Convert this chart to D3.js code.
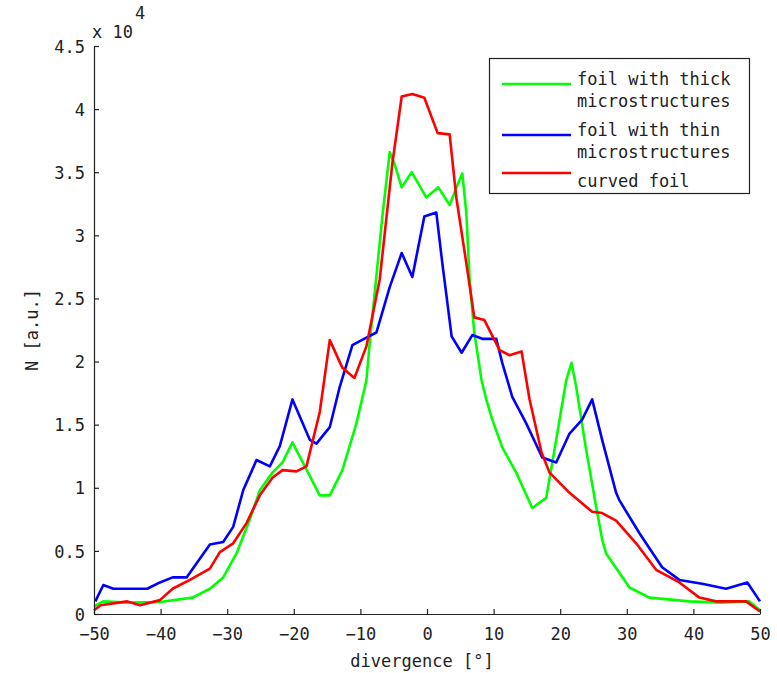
<!DOCTYPE html>
<html>
<head>
<meta charset="utf-8">
<script src="https://cdn.jsdelivr.net/npm/d3@7"></script>
<style>
  body { margin: 0; background: #fff; }
  svg text { font-family: "DejaVu Sans Mono", monospace; fill: #222; }
  .line { fill: none; stroke-width: 2.6; stroke-linejoin: round; }
</style>
</head>
<body>
<svg width="777" height="673"></svg>
<script>
// values are N / 10^4
var thickX = [-50, -48.6, -45, -40.1, -35.2, -32.6, -30.6, -28.6, -26.6, -25.1, -23.2, -21.7, -20.2, -16.1, -14.6, -12.7, -10.6, -9.1, -8.6, -6.7, -5.6, -4.9, -3.8, -2.3, -0.1, 1.7, 3.4, 4.9, 5.3, 5.9, 6.4, 7.1, 8.2, 8.9, 9.8, 11.3, 13.4, 15.8, 17.9, 19.4, 20.9, 21.7, 22.4, 23.9, 25.4, 26.3, 26.9, 30.4, 33.4, 39.4, 44, 48.4, 50];
var thickY = [0.06, 0.1, 0.09, 0.095, 0.13, 0.2, 0.29, 0.48, 0.75, 0.98, 1.12, 1.2, 1.36, 0.94, 0.94, 1.14, 1.51, 1.85, 2.15, 3.15, 3.66, 3.57, 3.38, 3.5, 3.3, 3.38, 3.24, 3.44, 3.49, 3.18, 2.65, 2.23, 1.85, 1.7, 1.54, 1.32, 1.12, 0.84, 0.92, 1.38, 1.85, 1.99, 1.8, 1.3, 0.85, 0.59, 0.48, 0.21, 0.13, 0.1, 0.09, 0.1, 0.03];

var thinX = [-49.8, -48.6, -47.1, -42, -40.1, -38.2, -36.1, -32.6, -30.6, -29.1, -27.6, -25.6, -23.6, -22.1, -20.2, -17.6, -16.6, -14.6, -13.1, -11.2, -9.1, -7.6, -5.6, -3.8, -2.2, -0.4, 1.4, 2.3, 3.7, 5.2, 6.8, 8.3, 10.4, 11.3, 12.8, 14.9, 17.3, 19.4, 21.4, 23.3, 24.8, 26.3, 28.4, 28.9, 31.9, 35.3, 37.9, 41.3, 44.9, 48.1, 50];
var thinY = [0.1, 0.23, 0.2, 0.2, 0.25, 0.29, 0.29, 0.55, 0.57, 0.69, 0.98, 1.22, 1.17, 1.33, 1.7, 1.38, 1.35, 1.48, 1.8, 2.13, 2.19, 2.23, 2.59, 2.86, 2.67, 3.15, 3.18, 2.78, 2.2, 2.07, 2.21, 2.18, 2.18, 1.99, 1.72, 1.51, 1.24, 1.2, 1.43, 1.54, 1.7, 1.38, 0.96, 0.9, 0.64, 0.37, 0.27, 0.24, 0.2, 0.25, 0.1];

var curvedX = [-50, -49, -45, -43.1, -40.1, -38.2, -35.6, -32.6, -31.1, -29.1, -27.1, -25.1, -23.2, -21.7, -19.6, -18.1, -16.1, -14.6, -12.7, -10.9, -9.1, -7.1, -5.2, -3.8, -2.2, -0.4, 1.6, 3.4, 4.4, 5.9, 7.1, 8.6, 10.9, 12.4, 14.2, 15.4, 17.2, 18.4, 21.4, 24.8, 26.3, 28.4, 31.4, 34.4, 37.9, 40.9, 43.4, 47.9, 50];
var curvedY = [0.03, 0.07, 0.1, 0.07, 0.11, 0.2, 0.27, 0.36, 0.49, 0.56, 0.72, 0.94, 1.08, 1.14, 1.13, 1.17, 1.6, 2.17, 1.95, 1.87, 2.12, 2.65, 3.57, 4.1, 4.12, 4.09, 3.81, 3.8, 3.3, 2.78, 2.35, 2.33, 2.09, 2.05, 2.08, 1.7, 1.28, 1.12, 0.96, 0.81, 0.8, 0.74, 0.56, 0.35, 0.25, 0.13, 0.1, 0.1, 0.02];

var seriesNames = ["foil with thick|microstructures", "foil with thin|microstructures", "curved foil"];
var seriesColors = ["#00ff00", "#0000ff", "#ff0000"];

var xTicks = [-50, -40, -30, -20, -10, 0, 10, 20, 30, 40, 50];
var yTicks = [0, 0.5, 1, 1.5, 2, 2.5, 3, 3.5, 4, 4.5];

var svg = d3.select("svg");

var x = d3.scaleLinear().domain([-50, 50]).range([94, 760]);
var y = d3.scaleLinear().domain([0, 4.5]).range([614, 46]);

function zip(xs, ys) {
  return xs.map(function(v, i) { return [v, ys[i]]; });
}

var series = [zip(thickX, thickY), zip(thinX, thinY), zip(curvedX, curvedY)];

var line = d3.line()
  .x(function(d) { return x(d[0]); })
  .y(function(d) { return y(d[1]); });

// draw curves, thick first so red ends on top
svg.append("g").selectAll("path")
  .data(series)
  .enter()
  .append("path")
  .attr("class", "line")
  .attr("d", line)
  .attr("stroke", function(d, i) { return seriesColors[i]; });

// axes with inward ticks like matlab
var xAxis = svg.append("g")
  .attr("transform", "translate(0,614)")
  .call(d3.axisBottom(x).tickValues(xTicks).tickSizeInner(-5).tickSizeOuter(0).tickPadding(14).tickFormat(d3.format("d")));

var yAxis = svg.append("g")
  .attr("transform", "translate(94,0)")
  .call(d3.axisLeft(y).tickValues(yTicks).tickSizeInner(-5).tickSizeOuter(0).tickPadding(9).tickFormat(function(d) { return String(d); }));

[xAxis, yAxis].forEach(function(a) {
  a.selectAll("path, line").attr("stroke", "#222").attr("stroke-width", 1.2);
  a.selectAll("text").style("font-size", "17px").attr("fill", "#222");
});
yAxis.selectAll("text").attr("dy", "0.36em");

// exponent label
svg.append("text").attr("x", 92).attr("y", 38).style("font-size", "17px").text("x 10");
svg.append("text").attr("x", 135).attr("y", 19).style("font-size", "17px").text("4");

// axis labels
svg.append("text")
  .attr("x", 422).attr("y", 667)
  .attr("text-anchor", "middle")
  .style("font-size", "17px")
  .text("divergence [°]");

svg.append("text")
  .attr("transform", "translate(38,330) rotate(-90)")
  .attr("text-anchor", "middle")
  .style("font-size", "17px")
  .text("N [a.u.]");

// legend
var legend = svg.append("g");
legend.append("rect")
  .attr("x", 489.5).attr("y", 58.5)
  .attr("width", 260).attr("height", 135)
  .attr("fill", "#fff").attr("stroke", "#222").attr("stroke-width", 1.2);

var legendLineY = [84, 135, 173];
var legendTextY = [85, 136, 187];

seriesNames.forEach(function(name, i) {
  legend.append("line")
    .attr("x1", 502).attr("x2", 571)
    .attr("y1", legendLineY[i]).attr("y2", legendLineY[i])
    .attr("stroke", seriesColors[i]).attr("stroke-width", 2.6);
  var parts = name.split("|");
  parts.forEach(function(p, j) {
    legend.append("text")
      .attr("x", 577).attr("y", legendTextY[i] + j * 21.5)
      .style("font-size", "17px")
      .text(p);
  });
});
</script>
</body>
</html>
